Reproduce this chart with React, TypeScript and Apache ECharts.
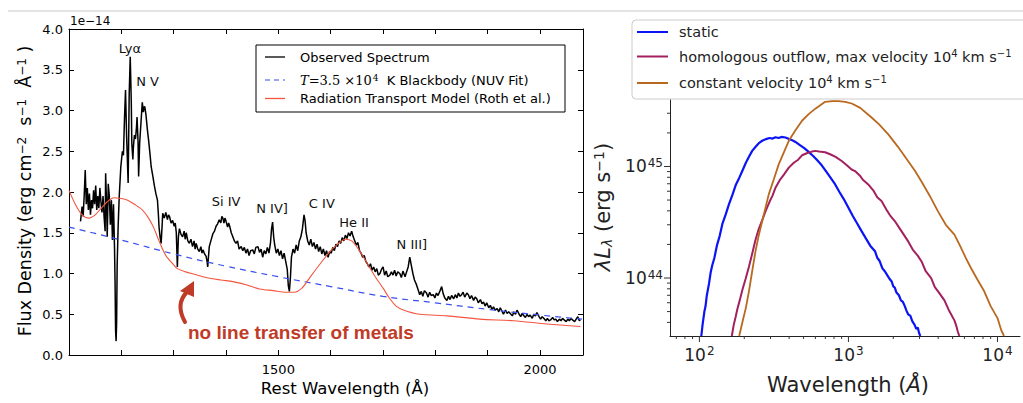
import React, { useEffect, useRef } from 'react';
import * as echarts from 'echarts';

// ---------- Left panel: UV spectrum (flux in units of 1e-14 erg cm^-2 s^-1 Å^-1) ----------
const observedSpectrum: [number, number][] = [
  [1122, 1.64], [1125, 1.82], [1127, 1.7], [1129, 1.95], [1131, 2.27], [1133, 1.85], [1135, 2.05], [1137, 1.78],
  [1139, 1.98], [1141, 1.72], [1143, 1.9], [1145, 1.8], [1147, 2.02], [1149, 1.85], [1151, 2.08], [1153, 1.78],
  [1155, 1.95], [1157, 1.8], [1159, 2.05], [1161, 1.88], [1163, 1.75], [1165, 1.95], [1167, 1.7], [1169, 1.52],
  [1170, 2.23], [1172, 1.8], [1173, 1.45], [1175, 2.1], [1177, 1.95], [1179, 1.6], [1181, 1.9], [1183, 1.41],
  [1185, 1.85], [1187, 1.3], [1188, 0.9], [1189, 0.3], [1190, 0.17], [1191, 0.4], [1192, 1.1], [1194, 1.6],
  [1196, 1.95], [1199, 2.31], [1202, 2.5], [1204, 2.45], [1206, 2.9], [1208, 3.25], [1210, 2.7], [1212, 2.3],
  [1213, 2.11], [1215, 3.2], [1217, 3.66], [1219, 3.1], [1220, 2.6], [1222, 2.4], [1223, 2.55], [1225, 2.7],
  [1227, 2.65], [1229, 2.8], [1230, 2.92], [1232, 2.6], [1233, 2.19], [1235, 2.6], [1237, 2.8], [1239, 3.0],
  [1240, 3.1], [1242, 2.98], [1244, 3.05], [1245, 3.04], [1247, 2.95], [1250, 2.75], [1252, 2.64], [1255, 2.45],
  [1257, 2.31], [1260, 2.2], [1263, 2.08], [1266, 1.98], [1269, 1.9], [1271, 1.7], [1272, 1.57], [1274, 1.45],
  [1276, 1.37], [1278, 1.6], [1279, 1.74], [1282, 1.68], [1285, 1.75], [1288, 1.66], [1290, 1.72], [1292, 1.7],
  [1295, 1.62], [1298, 1.65], [1301, 1.58], [1303, 1.62], [1305, 1.5], [1307, 1.08], [1309, 1.45], [1311, 1.55],
  [1314, 1.48], [1317, 1.45], [1320, 1.52], [1322, 1.42], [1324, 1.5], [1327, 1.4], [1330, 1.37], [1333, 1.42],
  [1336, 1.33], [1339, 1.4], [1341, 1.3], [1343, 1.37], [1346, 1.3], [1349, 1.27], [1352, 1.33], [1354, 1.25],
  [1356, 1.29], [1359, 1.24], [1362, 1.21], [1364, 1.14], [1365, 1.08], [1367, 1.25], [1368, 1.33], [1371, 1.4],
  [1375, 1.49], [1378, 1.52], [1381, 1.58], [1384, 1.61], [1387, 1.66], [1390, 1.62], [1392, 1.7], [1394, 1.68],
  [1396, 1.62], [1398, 1.68], [1400, 1.64], [1403, 1.57], [1405, 1.62], [1407, 1.58], [1410, 1.5], [1413, 1.45],
  [1416, 1.4], [1419, 1.37], [1422, 1.4], [1425, 1.3], [1429, 1.33], [1432, 1.28], [1435, 1.32], [1438, 1.25],
  [1441, 1.3], [1444, 1.22], [1447, 1.28], [1451, 1.29], [1454, 1.24], [1457, 1.32], [1461, 1.33], [1464, 1.26],
  [1467, 1.3], [1470, 1.2], [1473, 1.28], [1476, 1.24], [1479, 1.32], [1482, 1.25], [1485, 1.38], [1487, 1.55],
  [1489, 1.63], [1491, 1.45], [1493, 1.35], [1496, 1.25], [1499, 1.3], [1502, 1.22], [1505, 1.28], [1508, 1.18],
  [1511, 1.25], [1514, 1.15], [1517, 1.05], [1519, 0.85], [1521, 0.78], [1523, 0.95], [1525, 1.2], [1528, 1.3],
  [1531, 1.25], [1534, 1.35], [1537, 1.28], [1540, 1.4], [1543, 1.45], [1546, 1.55], [1549, 1.72], [1551, 1.65],
  [1553, 1.5], [1556, 1.4], [1559, 1.35], [1562, 1.42], [1565, 1.33], [1568, 1.38], [1571, 1.3], [1574, 1.36],
  [1577, 1.27], [1580, 1.33], [1583, 1.24], [1586, 1.3], [1589, 1.22], [1592, 1.28], [1595, 1.2], [1598, 1.27],
  [1601, 1.25], [1604, 1.32], [1607, 1.28], [1610, 1.36], [1613, 1.33], [1616, 1.4], [1619, 1.37], [1622, 1.44],
  [1625, 1.4], [1628, 1.47], [1631, 1.43], [1634, 1.5], [1637, 1.46], [1640, 1.52], [1643, 1.45], [1646, 1.4],
  [1649, 1.35], [1652, 1.38], [1655, 1.28], [1658, 1.25], [1661, 1.2], [1664, 1.22], [1667, 1.15], [1670, 1.12],
  [1673, 1.08], [1676, 1.12], [1679, 1.04], [1682, 1.08], [1685, 1.02], [1688, 1.06], [1691, 0.98], [1694, 1.0],
  [1697, 1.05], [1700, 1.08], [1703, 0.98], [1706, 1.03], [1709, 0.96], [1713, 0.98], [1716, 1.02], [1719, 0.98],
  [1722, 1.04], [1725, 0.97], [1728, 1.02], [1732, 1.0], [1735, 0.95], [1738, 1.03], [1742, 0.96], [1745, 1.02],
  [1748, 1.08], [1751, 1.2], [1754, 1.1], [1757, 1.0], [1760, 0.92], [1764, 0.86], [1767, 0.8], [1770, 0.74],
  [1773, 0.78], [1776, 0.72], [1779, 0.79], [1783, 0.76], [1786, 0.71], [1789, 0.77], [1792, 0.73], [1796, 0.74],
  [1799, 0.7], [1802, 0.76], [1805, 0.73], [1809, 0.79], [1812, 0.84], [1815, 0.75], [1818, 0.7], [1822, 0.67],
  [1825, 0.72], [1828, 0.68], [1831, 0.73], [1835, 0.69], [1838, 0.74], [1841, 0.7], [1844, 0.76], [1847, 0.72],
  [1850, 0.74], [1853, 0.77], [1856, 0.71], [1860, 0.76], [1863, 0.74], [1866, 0.69], [1869, 0.73], [1873, 0.67],
  [1876, 0.71], [1879, 0.69], [1882, 0.64], [1886, 0.68], [1889, 0.63], [1892, 0.65], [1895, 0.6], [1898, 0.64],
  [1902, 0.58], [1905, 0.61], [1908, 0.56], [1911, 0.59], [1914, 0.55], [1918, 0.57], [1921, 0.53], [1924, 0.58],
  [1927, 0.54], [1930, 0.5], [1934, 0.55], [1937, 0.51], [1940, 0.53], [1943, 0.51], [1947, 0.48], [1950, 0.53],
  [1953, 0.5], [1956, 0.55], [1960, 0.5], [1963, 0.47], [1966, 0.51], [1968, 0.49], [1972, 0.46], [1975, 0.5],
  [1978, 0.47], [1981, 0.49], [1985, 0.45], [1988, 0.5], [1991, 0.48], [1994, 0.52], [1998, 0.47], [2001, 0.44],
  [2004, 0.47], [2007, 0.45], [2011, 0.42], [2014, 0.45], [2017, 0.42], [2020, 0.43], [2024, 0.46], [2027, 0.43],
  [2030, 0.44], [2033, 0.41], [2037, 0.44], [2040, 0.42], [2043, 0.45], [2046, 0.43], [2050, 0.41], [2053, 0.44],
  [2056, 0.42], [2059, 0.45], [2062, 0.43], [2066, 0.41], [2069, 0.44], [2072, 0.47], [2075, 0.42], [2077, 0.43],
];

const blackbodyFit: [number, number][] = [
  [1100, 1.57], [1200, 1.41], [1300, 1.24], [1400, 1.09], [1500, 0.96], [1600, 0.84],
  [1700, 0.72], [1800, 0.64], [1900, 0.56], [2000, 0.49], [2080, 0.44],
];

const rothModel: [number, number][] = [
  [1100, 2.02], [1112, 1.85], [1125, 1.72], [1138, 1.68], [1150, 1.72], [1160, 1.79], [1173, 1.88],
  [1186, 1.93], [1200, 1.92], [1212, 1.9], [1225, 1.85], [1240, 1.78], [1252, 1.68], [1262, 1.56],
  [1272, 1.4], [1285, 1.22], [1298, 1.12], [1307, 1.06], [1323, 1.02], [1340, 0.99], [1362, 0.95],
  [1390, 0.92], [1413, 0.9], [1440, 0.86], [1464, 0.81], [1490, 0.79], [1515, 0.77], [1530, 0.77],
  [1545, 0.82], [1560, 0.95], [1580, 1.12], [1600, 1.28], [1615, 1.37], [1628, 1.42], [1640, 1.4],
  [1655, 1.28], [1670, 1.12], [1685, 0.96], [1700, 0.82], [1712, 0.7], [1725, 0.6], [1740, 0.55],
  [1770, 0.5], [1822, 0.48], [1885, 0.44], [1950, 0.42], [2013, 0.38], [2077, 0.35],
];

const lineLabels = [
  { name: 'Lyα', wave: 1216.5, flux: 3.755 },
  { name: 'N V', wave: 1250, flux: 3.35 },
  { name: 'Si IV', wave: 1400, flux: 1.88 },
  { name: 'N IV]', wave: 1488, flux: 1.8 },
  { name: 'C IV', wave: 1583, flux: 1.865 },
  { name: 'He II', wave: 1644.5, flux: 1.63 },
  { name: 'N III]', wave: 1755, flux: 1.36 },
];

// ---------- Right panel: λL_λ for three outflow models [wavelength Å, erg s^-1] ----------
const staticSed: [number, number][] = [
  [103, 3.02e43], [105, 3.8e43], [108, 5.0e43], [110, 5.6e43], [112, 6.9e43], [116, 8.9e43], [119, 1.12e44],
  [122, 1.3e44], [126, 1.51e44], [131, 1.95e44], [137, 2.4e44], [143, 3.09e44], [150, 3.7e44], [158, 4.6e44],
  [167, 5.62e44], [176, 6.9e44], [185, 7.9e44], [194, 9.12e44], [205, 1.08e45], [215, 1.22e45], [226, 1.38e45],
  [240, 1.52e45], [252, 1.63e45], [264, 1.7e45], [280, 1.76e45], [295, 1.8e45], [310, 1.78e45], [324, 1.83e45],
  [340, 1.8e45], [355, 1.84e45], [378, 1.82e45], [400, 1.76e45], [420, 1.72e45], [441, 1.66e45], [470, 1.56e45],
  [505, 1.46e45], [541, 1.35e45], [580, 1.24e45], [620, 1.13e45], [664, 1.02e45], [710, 9.0e44], [760, 7.9e44],
  [815, 6.9e44], [870, 5.9e44], [930, 5.1e44], [1000, 4.27e44], [1070, 3.6e44], [1150, 3.05e44], [1225, 2.63e44],
  [1300, 2.3e44], [1400, 1.95e44], [1507, 1.74e44], [1560, 1.52e44], [1620, 1.42e44], [1690, 1.22e44],
  [1754, 1.15e44], [1820, 1.06e44], [1880, 9.9e43], [1950, 9.3e43], [2000, 8.4e43], [2046, 8.2e43],
  [2100, 7.4e43], [2180, 7.0e43], [2250, 6.3e43], [2320, 6.1e43], [2388, 5.6e43], [2450, 5.1e43],
  [2520, 4.7e43], [2600, 4.6e43], [2680, 4.1e43], [2780, 3.8e43], [2850, 3.5e43], [2920, 3.6e43],
  [2980, 3.2e43], [3034, 3.02e43],
];

const homologousSed: [number, number][] = [
  [165, 3.02e43], [170, 3.8e43], [175, 4.47e43], [180, 5.3e43], [187, 6.4e43], [194, 7.76e43], [204, 9.8e43],
  [215, 1.26e44], [226, 1.65e44], [238, 2.2e44], [250, 2.75e44], [264, 3.3e44], [278, 3.98e44], [295, 4.8e44],
  [310, 5.5e44], [324, 6.46e44], [345, 7.5e44], [370, 8.5e44], [398, 9.77e44], [430, 1.08e45], [460, 1.15e45],
  [488, 1.26e45], [530, 1.32e45], [570, 1.36e45], [600, 1.38e45], [635, 1.36e45], [698, 1.34e45],
  [760, 1.28e45], [820, 1.22e45], [901, 1.12e45], [980, 1.02e45], [1050, 9.4e44], [1107, 9.1e44],
  [1200, 8.2e44], [1250, 7.6e44], [1358, 6.9e44], [1480, 6.0e44], [1560, 5.3e44], [1667, 4.9e44],
  [1800, 4.1e44], [1900, 3.65e44], [2046, 3.24e44], [2200, 2.8e44], [2350, 2.45e44], [2511, 2.14e44],
  [2700, 1.8e44], [2924, 1.58e44], [3100, 1.4e44], [3300, 1.15e44], [3589, 1.0e44], [3800, 8.3e43],
  [4050, 7.4e43], [4406, 6.3e43], [4700, 5.2e43], [5140, 4.17e43], [5300, 3.7e43], [5420, 3.3e43],
  [5546, 3.02e43],
];

const constantSed: [number, number][] = [
  [185, 3.02e43], [195, 4.1e43], [205, 5.4e43], [215, 7.6e43], [226, 1.15e44], [238, 1.74e44], [250, 2.4e44],
  [264, 3.24e44], [278, 4.3e44], [292, 5.62e44], [315, 7.6e44], [341, 1.05e45], [370, 1.35e45], [398, 1.7e45],
  [440, 2.1e45], [488, 2.57e45], [541, 2.95e45], [600, 3.3e45], [698, 3.8e45], [780, 3.85e45], [857, 3.85e45],
  [950, 3.8e45], [1052, 3.67e45], [1200, 3.35e45], [1429, 2.75e45], [1600, 2.4e45], [1845, 1.95e45],
  [2150, 1.5e45], [2512, 1.12e45], [2800, 9.1e44], [3076, 7.4e44], [3500, 5.5e44], [3981, 3.98e44],
  [4500, 3.0e44], [5140, 2.45e44], [5600, 1.95e44], [6138, 1.51e44], [6637, 1.23e44], [7300, 9.8e43],
  [8147, 7.6e43], [9000, 5.6e43], [10000, 4.37e43], [10600, 3.4e43], [11066, 3.02e43],
];

const xMajorTicks = [100, 1000, 10000];
const xMinorTicks = [70, 80, 90, 200, 300, 400, 500, 600, 700, 800, 900, 2000, 3000, 4000, 5000, 6000, 7000, 8000, 9000];
const yMajorTicks = [1e44, 1e45];
const yMinorTicks = [4e43, 5e43, 6e43, 7e43, 8e43, 9e43, 2e44, 3e44, 4e44, 5e44, 6e44, 7e44, 8e44, 9e44, 2e45, 3e45];

const SED_X_MIN = 63.5;
const SED_X_MAX = 14160;
const SED_Y_MIN = 3.02e43;
const SED_Y_MAX = 3.945e45;

const FONT = "'DejaVu Sans', sans-serif";
const SERIF = "'DejaVu Serif', serif";
const BLUE_DASH = '#3a4ff0';
const MODEL_RED = '#f4553f';
const STATIC_BLUE = '#0a14f5';
const HOMOLOGOUS = '#a3205f';
const CONSTANT = '#b8691f';
const NOTE_RED = '#bf3b27';

const isPow10 = (v: number) => {
  const l = Math.log10(v);
  return Math.abs(l - Math.round(l)) < 1e-6;
};

const App: React.FC = () => {
  const ref = useRef<HTMLDivElement>(null);

  useEffect(() => {
    if (!ref.current) return;
    const chart = echarts.init(ref.current, undefined, { renderer: 'svg' });

    const linAxisCommon = {
      axisLine: { show: true, onZero: false, lineStyle: { color: '#000', width: 1 } },
      axisTick: { show: true, inside: true, length: 5, lineStyle: { color: '#000' } },
      splitLine: { show: false },
    };

    const powLabel = {
      formatter: (v: number) => (isPow10(v) ? `{b|10}{s|${Math.round(Math.log10(v))}}` : ''),
      rich: {
        b: { fontSize: 17, fontFamily: FONT, color: '#222' },
        s: { fontSize: 12, fontFamily: FONT, color: '#222', verticalAlign: 'top', padding: [0, 0, 7, 1] },
      },
    };

    const tickRender = (dir: 'x' | 'y') => (_p: any, api: any) => {
      const pt = api.coord([api.value(0), api.value(1)]);
      const len = api.value(2);
      return {
        type: 'line',
        shape:
          dir === 'x'
            ? { x1: pt[0], y1: pt[1], x2: pt[0], y2: pt[1] + len }
            : { x1: pt[0], y1: pt[1], x2: pt[0] - len, y2: pt[1] },
        style: { stroke: '#333', lineWidth: 1 },
      };
    };

    const sup = { fontSize: 12, fontFamily: FONT, fill: '#000', verticalAlign: 'top', padding: [0, 0, 7, 0] };

    chart.setOption({
      animation: false,
      backgroundColor: '#fff',
      grid: [
        { left: 69, top: 29, width: 514, height: 326 },
        { left: 670, top: 100, width: 353, height: 236 },
      ],
      xAxis: [
        {
          type: 'value', gridIndex: 0, min: 1100, max: 2082, interval: 100, position: 'bottom',
          ...linAxisCommon,
          axisLabel: {
            formatter: (v: number) => (v % 500 === 0 ? String(v) : ''),
            fontSize: 13, fontFamily: FONT, color: '#000', margin: 8,
          },
        },
        {
          type: 'value', gridIndex: 0, min: 1100, max: 2082, interval: 100, position: 'top',
          ...linAxisCommon, axisLabel: { show: false },
        },
        {
          type: 'log', gridIndex: 1, logBase: 10, min: SED_X_MIN, max: SED_X_MAX, position: 'bottom',
          axisLine: { show: true, onZero: false, lineStyle: { color: '#222' } },
          axisTick: { show: false }, splitLine: { show: false }, minorTick: { show: false },
          axisLabel: { ...powLabel, margin: 9 },
        },
      ],
      yAxis: [
        {
          type: 'value', gridIndex: 0, min: 0, max: 4, interval: 0.5, position: 'left',
          ...linAxisCommon,
          axisLabel: { formatter: (v: number) => v.toFixed(1), fontSize: 13, fontFamily: FONT, color: '#000', margin: 6 },
        },
        {
          type: 'value', gridIndex: 0, min: 0, max: 4, interval: 0.5, position: 'right',
          ...linAxisCommon, axisLabel: { show: false },
        },
        {
          type: 'log', gridIndex: 1, logBase: 10, min: SED_Y_MIN, max: SED_Y_MAX, position: 'left',
          axisLine: { show: true, onZero: false, lineStyle: { color: '#222' } },
          axisTick: { show: false }, splitLine: { show: false }, minorTick: { show: false },
          axisLabel: { ...powLabel, margin: 7 },
        },
      ],
      series: [
        {
          name: 'Observed Spectrum', type: 'line', xAxisIndex: 0, yAxisIndex: 0, data: observedSpectrum,
          showSymbol: false, symbol: 'none', lineStyle: { color: '#000', width: 1.5 }, z: 3,
          markPoint: {
            symbol: 'circle', symbolSize: 0, silent: true,
            label: { show: true, position: 'inside', formatter: '{b}', color: '#111', fontSize: 13, fontFamily: FONT },
            data: lineLabels.map((l) => ({ name: l.name, coord: [l.wave, l.flux] })),
          },
        },
        {
          name: 'Blackbody', type: 'line', xAxisIndex: 0, yAxisIndex: 0, data: blackbodyFit, smooth: true,
          showSymbol: false, symbol: 'none', lineStyle: { color: BLUE_DASH, width: 1.2, type: [6, 5] }, z: 4,
        },
        {
          name: 'Radiation Transport Model', type: 'line', xAxisIndex: 0, yAxisIndex: 0, data: rothModel, smooth: 0.3,
          showSymbol: false, symbol: 'none', lineStyle: { color: MODEL_RED, width: 1.1 }, z: 4,
        },
        {
          name: 'static', type: 'line', xAxisIndex: 2, yAxisIndex: 2, data: staticSed,
          showSymbol: false, symbol: 'none', lineStyle: { color: STATIC_BLUE, width: 2.2 },
        },
        {
          name: 'homologous', type: 'line', xAxisIndex: 2, yAxisIndex: 2, data: homologousSed,
          showSymbol: false, symbol: 'none', lineStyle: { color: HOMOLOGOUS, width: 2 },
        },
        {
          name: 'constant', type: 'line', xAxisIndex: 2, yAxisIndex: 2, data: constantSed,
          showSymbol: false, symbol: 'none', lineStyle: { color: CONSTANT, width: 1.8 },
        },
        {
          type: 'custom', xAxisIndex: 2, yAxisIndex: 2, clip: false, silent: true,
          encode: { x: 0, y: 1 },
          data: [
            ...xMajorTicks.map((v) => [v, SED_Y_MIN, 6]),
            ...xMinorTicks.map((v) => [v, SED_Y_MIN, 3]),
          ],
          renderItem: tickRender('x'),
        },
        {
          type: 'custom', xAxisIndex: 2, yAxisIndex: 2, clip: false, silent: true,
          encode: { x: 0, y: 1 },
          data: [
            ...yMajorTicks.map((v) => [SED_X_MIN, v, 6]),
            ...yMinorTicks.map((v) => [SED_X_MIN, v, 3]),
          ],
          renderItem: tickRender('y'),
        },
      ],
      graphic: [
        // thin rule across the top of the figure
        { type: 'line', shape: { x1: 8, y1: 11, x2: 1023, y2: 11 }, style: { stroke: '#c8c8c8', lineWidth: 1 }, z: 10 },
        // offset text of the left y axis
        { type: 'text', x: 70, y: 21, style: { text: '1e−14', fontSize: 12, fontFamily: FONT, fill: '#000', verticalAlign: 'middle' }, z: 10 },
        // left y-axis title
        {
          type: 'text', x: 25, y: 191, rotation: Math.PI / 2, z: 10,
          style: {
            text: '{n|Flux Density (erg cm}{s|−2}{n|  s}{s|−1}{n|  Å}{s|−1}{n| )}',
            align: 'center', verticalAlign: 'middle',
            rich: { n: { fontSize: 17.5, fontFamily: FONT, fill: '#000' }, s: sup },
          },
        },
        // left x-axis title
        {
          type: 'text', x: 345, y: 388, z: 10,
          style: { text: 'Rest Wavelength (Å)', fontSize: 16.5, fontFamily: FONT, fill: '#000', align: 'center', verticalAlign: 'middle' },
        },
        // annotation about the model
        {
          type: 'text', x: 188, y: 332, z: 10,
          style: { text: 'no line transfer of metals', fontSize: 19, fontWeight: 'bold', fontFamily: "'Liberation Sans', Arial, sans-serif", fill: NOTE_RED, verticalAlign: 'middle' },
        },
        {
          type: 'bezierCurve', z: 10,
          shape: { x1: 185, y1: 322, cpx1: 175, cpy1: 304, x2: 187, y2: 292 },
          style: { stroke: NOTE_RED, lineWidth: 4, fill: null, lineCap: 'round' },
        },
        {
          type: 'polygon', z: 10,
          shape: { points: [[194, 281], [180, 291], [194, 297]] },
          style: { fill: NOTE_RED },
        },
        // left legend
        {
          type: 'group', z: 20,
          children: [
            { type: 'rect', shape: { x: 256, y: 45, width: 309, height: 67 }, style: { fill: '#fff', stroke: '#000', lineWidth: 1 } },
            { type: 'line', shape: { x1: 265, y1: 57, x2: 285, y2: 57 }, style: { stroke: '#000', lineWidth: 1.3 } },
            { type: 'text', x: 300, y: 57, style: { text: 'Observed Spectrum', fontSize: 13, fontFamily: FONT, fill: '#000', verticalAlign: 'middle' } },
            { type: 'line', shape: { x1: 265, y1: 80, x2: 285, y2: 80 }, style: { stroke: BLUE_DASH, lineWidth: 1.2, lineDash: [5, 4] } },
            {
              type: 'text', x: 300, y: 80,
              style: {
                text: '{i|T}{m|=3.5 ×10}{e|4}{n|  K Blackbody (NUV Fit)}',
                verticalAlign: 'middle',
                rich: {
                  i: { fontSize: 13, fontFamily: SERIF, fontStyle: 'italic', fill: '#000' },
                  m: { fontSize: 13, fontFamily: SERIF, fill: '#000' },
                  e: { fontSize: 9, fontFamily: SERIF, fill: '#000', verticalAlign: 'top', padding: [0, 0, 5, 1] },
                  n: { fontSize: 13, fontFamily: FONT, fill: '#000' },
                },
              },
            },
            { type: 'line', shape: { x1: 265, y1: 98.5, x2: 285, y2: 98.5 }, style: { stroke: MODEL_RED, lineWidth: 1.3 } },
            { type: 'text', x: 300, y: 98.5, style: { text: 'Radiation Transport Model (Roth et al.)', fontSize: 13, fontFamily: FONT, fill: '#000', verticalAlign: 'middle' } },
          ],
        },
        // right legend
        {
          type: 'group', z: 20,
          children: [
            { type: 'rect', shape: { x: 632, y: 20, width: 420, height: 79, r: 4 }, style: { fill: 'rgba(255,255,255,0.92)', stroke: '#cccccc', lineWidth: 1 } },
            { type: 'line', shape: { x1: 637, y1: 32, x2: 668, y2: 32 }, style: { stroke: STATIC_BLUE, lineWidth: 2 } },
            { type: 'text', x: 679, y: 32, style: { text: 'static', fontSize: 14.5, fontFamily: FONT, fill: '#222', verticalAlign: 'middle' } },
            { type: 'line', shape: { x1: 637, y1: 56.5, x2: 668, y2: 56.5 }, style: { stroke: HOMOLOGOUS, lineWidth: 2 } },
            {
              type: 'text', x: 679, y: 56.5,
              style: {
                text: '{n|homologous outflow, max velocity 10}{s|4}{n| km s}{s|−1}',
                verticalAlign: 'middle',
                rich: { n: { fontSize: 14.5, fontFamily: FONT, fill: '#222' }, s: { ...sup, fontSize: 10, fill: '#222' } },
              },
            },
            { type: 'line', shape: { x1: 637, y1: 83, x2: 668, y2: 83 }, style: { stroke: CONSTANT, lineWidth: 2 } },
            {
              type: 'text', x: 679, y: 83,
              style: {
                text: '{n|constant velocity 10}{s|4}{n| km s}{s|−1}',
                verticalAlign: 'middle',
                rich: { n: { fontSize: 14.5, fontFamily: FONT, fill: '#222' }, s: { ...sup, fontSize: 10, fill: '#222' } },
              },
            },
          ],
        },
        // right y-axis title
        {
          type: 'text', x: 603, y: 207, rotation: Math.PI / 2, z: 10,
          style: {
            text: '{i|λL}{b|λ}{n| (erg s}{s|−1}{n|)}',
            align: 'center', verticalAlign: 'middle',
            rich: {
              i: { fontSize: 21, fontFamily: FONT, fontStyle: 'italic', fill: '#222' },
              b: { fontSize: 14, fontFamily: FONT, fontStyle: 'italic', fill: '#222', verticalAlign: 'bottom', padding: [6, 0, 0, 0] },
              n: { fontSize: 21, fontFamily: FONT, fill: '#222' },
              s: { fontSize: 14, fontFamily: FONT, fill: '#222', verticalAlign: 'top', padding: [0, 0, 8, 0] },
            },
          },
        },
        // right x-axis title
        {
          type: 'text', x: 848, y: 385, z: 10,
          style: {
            text: '{n|Wavelength (}{i|Å}{n|)}',
            align: 'center', verticalAlign: 'middle',
            rich: {
              n: { fontSize: 21, fontFamily: FONT, fill: '#222' },
              i: { fontSize: 21, fontFamily: FONT, fontStyle: 'italic', fill: '#222' },
            },
          },
        },
      ],
    });

    return () => chart.dispose();
  }, []);

  return (
    <div
      ref={ref}
      style={{ position: 'fixed', left: 0, top: 0, width: 1023, height: 403, background: '#fff' }}
    />
  );
};

export default App;
